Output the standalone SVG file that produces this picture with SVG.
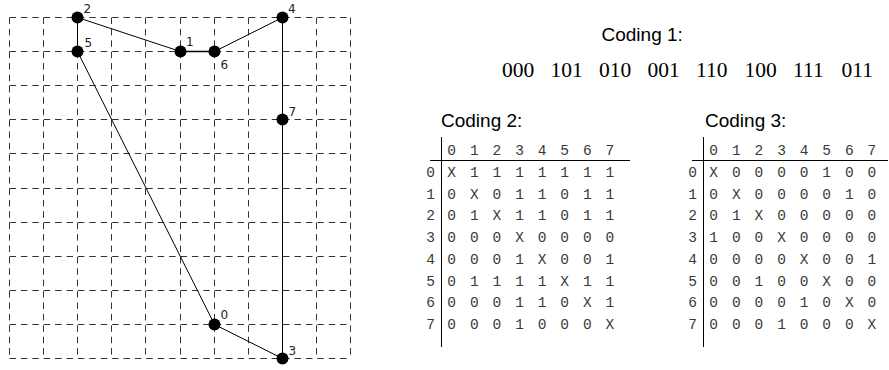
<svg xmlns="http://www.w3.org/2000/svg" width="889" height="370" viewBox="0 0 889 370">
<style>
.grid line{stroke:#333;stroke-width:1;stroke-dasharray:6.5 4.9}
.edge{stroke:#000;stroke-width:1;fill:none}
.node circle{fill:#000}
.nl{font-family:"DejaVu Sans",sans-serif;font-size:12px;fill:#222}
.title{font-family:"Liberation Sans",Arial,sans-serif;font-size:19px;fill:#000}
.code{font-family:"Liberation Serif","Times New Roman",serif;font-size:21.5px;fill:#000}
.tb{font-family:"Liberation Mono","Courier New",monospace;font-size:14.5px;fill:#3a3a3a;text-anchor:middle}
.rule{stroke:#000;stroke-width:1}
</style>
<rect width="889" height="370" fill="#fff"/>
<g class="grid">
<line x1="9.5" y1="17.5" x2="9.5" y2="358.5"/>
<line x1="43.5" y1="17.5" x2="43.5" y2="358.5"/>
<line x1="77.5" y1="17.5" x2="77.5" y2="358.5"/>
<line x1="111.5" y1="17.5" x2="111.5" y2="358.5"/>
<line x1="145.5" y1="17.5" x2="145.5" y2="358.5"/>
<line x1="180.5" y1="17.5" x2="180.5" y2="358.5"/>
<line x1="214.5" y1="17.5" x2="214.5" y2="358.5"/>
<line x1="248.5" y1="17.5" x2="248.5" y2="358.5"/>
<line x1="282.5" y1="17.5" x2="282.5" y2="358.5"/>
<line x1="316.5" y1="17.5" x2="316.5" y2="358.5"/>
<line x1="350.5" y1="17.5" x2="350.5" y2="358.5"/>
<line x1="9.5" y1="17.5" x2="350.5" y2="17.5"/>
<line x1="9.5" y1="51.5" x2="350.5" y2="51.5"/>
<line x1="9.5" y1="85.5" x2="350.5" y2="85.5"/>
<line x1="9.5" y1="119.5" x2="350.5" y2="119.5"/>
<line x1="9.5" y1="153.5" x2="350.5" y2="153.5"/>
<line x1="9.5" y1="188.5" x2="350.5" y2="188.5"/>
<line x1="9.5" y1="222.5" x2="350.5" y2="222.5"/>
<line x1="9.5" y1="256.5" x2="350.5" y2="256.5"/>
<line x1="9.5" y1="290.5" x2="350.5" y2="290.5"/>
<line x1="9.5" y1="324.5" x2="350.5" y2="324.5"/>
<line x1="9.5" y1="358.5" x2="350.5" y2="358.5"/>
</g>
<g id="connectors">
<line class="edge" x1="77.5" y1="17.5" x2="77.5" y2="51.5"/>
<line class="edge" x1="77.5" y1="17.5" x2="180.5" y2="51.5"/>
<line class="edge" x1="180.5" y1="51.5" x2="214.5" y2="51.5" style="stroke-width:1.5"/>
<line class="edge" x1="214.5" y1="51.5" x2="282.5" y2="17.5"/>
<line class="edge" x1="282.5" y1="17.5" x2="282.5" y2="119.5"/>
<line class="edge" x1="282.5" y1="119.5" x2="282.5" y2="358.5"/>
<line class="edge" x1="282.5" y1="358.5" x2="214.5" y2="324.5"/>
<line class="edge" x1="214.5" y1="324.5" x2="77.5" y2="51.5"/>
</g>
<g id="n0" class="node"><circle cx="214.5" cy="324.5" r="6"/><text class="nl" x="220.5" y="319">0</text></g>
<g id="n1" class="node"><circle cx="180.5" cy="51.5" r="6"/><text class="nl" x="186" y="46">1</text></g>
<g id="n2" class="node"><circle cx="77.5" cy="17.5" r="6"/><text class="nl" x="83.5" y="13.3">2</text></g>
<g id="n3" class="node"><circle cx="282.5" cy="358.5" r="6"/><text class="nl" x="288.5" y="355">3</text></g>
<g id="n4" class="node"><circle cx="282.5" cy="17.5" r="6"/><text class="nl" x="288" y="12.5">4</text></g>
<g id="n5" class="node"><circle cx="77.5" cy="51.5" r="6"/><text class="nl" x="84.5" y="46.7">5</text></g>
<g id="n6" class="node"><circle cx="214.5" cy="51.5" r="6"/><text class="nl" x="220.5" y="69.3">6</text></g>
<g id="n7" class="node"><circle cx="282.5" cy="119.5" r="6"/><text class="nl" x="288.5" y="116">7</text></g>

<g id="coding1">
<text class="title" x="601.5" y="41">Coding 1:</text>
<text class="code" y="77"><tspan x="502">000</tspan><tspan x="550.5">101</tspan><tspan x="599">010</tspan><tspan x="647.5">001</tspan><tspan x="696">110</tspan><tspan x="744.5">100</tspan><tspan x="793">111</tspan><tspan x="841.5">011</tspan></text>
</g>

<g id="coding2">
<text class="title" x="441" y="127">Coding 2:</text>
<line class="rule" x1="441.5" y1="137" x2="441.5" y2="347"/>
<line class="rule" x1="430" y1="160.5" x2="630" y2="160.5"/>
<text class="tb" y="155"><tspan x="451.7">0</tspan><tspan x="474.3">1</tspan><tspan x="496.9">2</tspan><tspan x="519.5">3</tspan><tspan x="542.1">4</tspan><tspan x="564.7">5</tspan><tspan x="587.3">6</tspan><tspan x="609.9">7</tspan></text>
<text class="tb" y="177"><tspan x="430.5">0</tspan><tspan x="451.7">X</tspan><tspan x="474.3">1</tspan><tspan x="496.9">1</tspan><tspan x="519.5">1</tspan><tspan x="542.1">1</tspan><tspan x="564.7">1</tspan><tspan x="587.3">1</tspan><tspan x="609.9">1</tspan></text>
<text class="tb" y="198.7"><tspan x="430.5">1</tspan><tspan x="451.7">0</tspan><tspan x="474.3">X</tspan><tspan x="496.9">0</tspan><tspan x="519.5">1</tspan><tspan x="542.1">1</tspan><tspan x="564.7">0</tspan><tspan x="587.3">1</tspan><tspan x="609.9">1</tspan></text>
<text class="tb" y="220.4"><tspan x="430.5">2</tspan><tspan x="451.7">0</tspan><tspan x="474.3">1</tspan><tspan x="496.9">X</tspan><tspan x="519.5">1</tspan><tspan x="542.1">1</tspan><tspan x="564.7">0</tspan><tspan x="587.3">1</tspan><tspan x="609.9">1</tspan></text>
<text class="tb" y="242.1"><tspan x="430.5">3</tspan><tspan x="451.7">0</tspan><tspan x="474.3">0</tspan><tspan x="496.9">0</tspan><tspan x="519.5">X</tspan><tspan x="542.1">0</tspan><tspan x="564.7">0</tspan><tspan x="587.3">0</tspan><tspan x="609.9">0</tspan></text>
<text class="tb" y="263.8"><tspan x="430.5">4</tspan><tspan x="451.7">0</tspan><tspan x="474.3">0</tspan><tspan x="496.9">0</tspan><tspan x="519.5">1</tspan><tspan x="542.1">X</tspan><tspan x="564.7">0</tspan><tspan x="587.3">0</tspan><tspan x="609.9">1</tspan></text>
<text class="tb" y="285.5"><tspan x="430.5">5</tspan><tspan x="451.7">0</tspan><tspan x="474.3">1</tspan><tspan x="496.9">1</tspan><tspan x="519.5">1</tspan><tspan x="542.1">1</tspan><tspan x="564.7">X</tspan><tspan x="587.3">1</tspan><tspan x="609.9">1</tspan></text>
<text class="tb" y="307.2"><tspan x="430.5">6</tspan><tspan x="451.7">0</tspan><tspan x="474.3">0</tspan><tspan x="496.9">0</tspan><tspan x="519.5">1</tspan><tspan x="542.1">1</tspan><tspan x="564.7">0</tspan><tspan x="587.3">X</tspan><tspan x="609.9">1</tspan></text>
<text class="tb" y="328.9"><tspan x="430.5">7</tspan><tspan x="451.7">0</tspan><tspan x="474.3">0</tspan><tspan x="496.9">0</tspan><tspan x="519.5">1</tspan><tspan x="542.1">0</tspan><tspan x="564.7">0</tspan><tspan x="587.3">0</tspan><tspan x="609.9">X</tspan></text>
</g>

<g id="coding3" transform="translate(262,0)">
<text class="title" x="443" y="127">Coding 3:</text>
<line class="rule" x1="441.5" y1="137" x2="441.5" y2="347"/>
<line class="rule" x1="430" y1="160.5" x2="626" y2="160.5"/>
<text class="tb" y="155"><tspan x="451.7">0</tspan><tspan x="474.3">1</tspan><tspan x="496.9">2</tspan><tspan x="519.5">3</tspan><tspan x="542.1">4</tspan><tspan x="564.7">5</tspan><tspan x="587.3">6</tspan><tspan x="609.9">7</tspan></text>
<text class="tb" y="177"><tspan x="430.5">0</tspan><tspan x="451.7">X</tspan><tspan x="474.3">0</tspan><tspan x="496.9">0</tspan><tspan x="519.5">0</tspan><tspan x="542.1">0</tspan><tspan x="564.7">1</tspan><tspan x="587.3">0</tspan><tspan x="609.9">0</tspan></text>
<text class="tb" y="198.7"><tspan x="430.5">1</tspan><tspan x="451.7">0</tspan><tspan x="474.3">X</tspan><tspan x="496.9">0</tspan><tspan x="519.5">0</tspan><tspan x="542.1">0</tspan><tspan x="564.7">0</tspan><tspan x="587.3">1</tspan><tspan x="609.9">0</tspan></text>
<text class="tb" y="220.4"><tspan x="430.5">2</tspan><tspan x="451.7">0</tspan><tspan x="474.3">1</tspan><tspan x="496.9">X</tspan><tspan x="519.5">0</tspan><tspan x="542.1">0</tspan><tspan x="564.7">0</tspan><tspan x="587.3">0</tspan><tspan x="609.9">0</tspan></text>
<text class="tb" y="242.1"><tspan x="430.5">3</tspan><tspan x="451.7">1</tspan><tspan x="474.3">0</tspan><tspan x="496.9">0</tspan><tspan x="519.5">X</tspan><tspan x="542.1">0</tspan><tspan x="564.7">0</tspan><tspan x="587.3">0</tspan><tspan x="609.9">0</tspan></text>
<text class="tb" y="263.8"><tspan x="430.5">4</tspan><tspan x="451.7">0</tspan><tspan x="474.3">0</tspan><tspan x="496.9">0</tspan><tspan x="519.5">0</tspan><tspan x="542.1">X</tspan><tspan x="564.7">0</tspan><tspan x="587.3">0</tspan><tspan x="609.9">1</tspan></text>
<text class="tb" y="285.5"><tspan x="430.5">5</tspan><tspan x="451.7">0</tspan><tspan x="474.3">0</tspan><tspan x="496.9">1</tspan><tspan x="519.5">0</tspan><tspan x="542.1">0</tspan><tspan x="564.7">X</tspan><tspan x="587.3">0</tspan><tspan x="609.9">0</tspan></text>
<text class="tb" y="307.2"><tspan x="430.5">6</tspan><tspan x="451.7">0</tspan><tspan x="474.3">0</tspan><tspan x="496.9">0</tspan><tspan x="519.5">0</tspan><tspan x="542.1">1</tspan><tspan x="564.7">0</tspan><tspan x="587.3">X</tspan><tspan x="609.9">0</tspan></text>
<text class="tb" y="328.9"><tspan x="430.5">7</tspan><tspan x="451.7">0</tspan><tspan x="474.3">0</tspan><tspan x="496.9">0</tspan><tspan x="519.5">1</tspan><tspan x="542.1">0</tspan><tspan x="564.7">0</tspan><tspan x="587.3">0</tspan><tspan x="609.9">X</tspan></text>
</g>
</svg>
